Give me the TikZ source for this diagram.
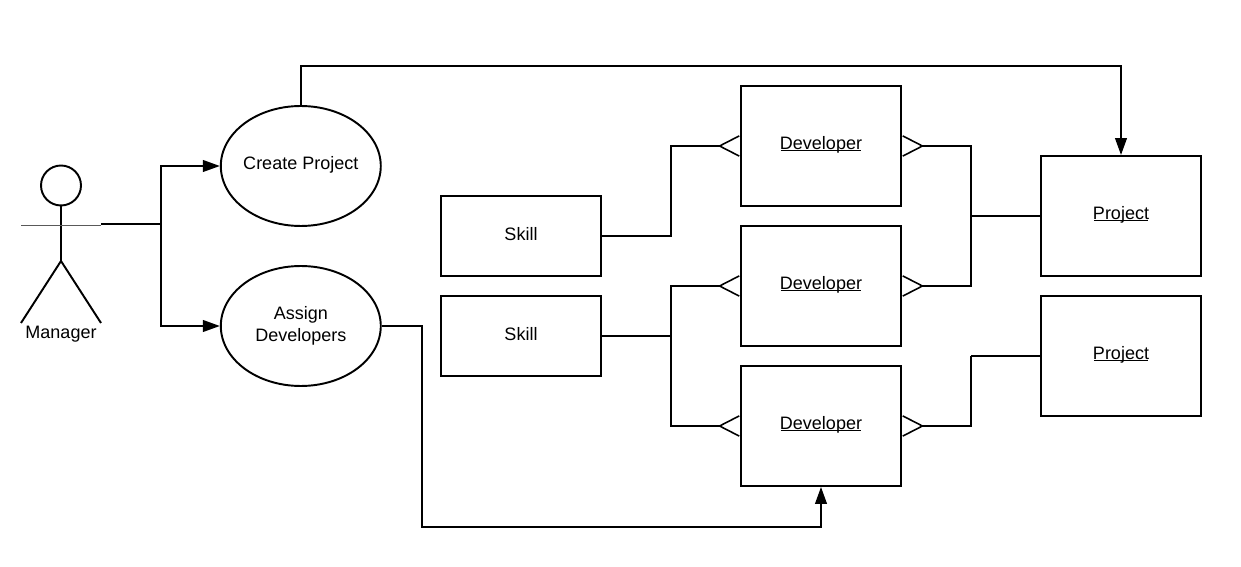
\documentclass[tikz,border=0pt]{standalone}
\usepackage{fontspec}
\setmainfont{Liberation Sans}
\usetikzlibrary{arrows.meta,shapes.geometric}

\newcommand{\souligne}[1]{\raisebox{-2.2pt}[0pt][0pt]{\vtop{\hbox{\kern-0.5pt#1\kern-0.5pt}\kern-2.1pt\hrule height 0.85pt\kern0pt}}}

\begin{document}
\begin{tikzpicture}[x=0.02cm,y=-0.02cm,font=\fontsize{10.25}{12.5}\selectfont]

\tikzset{
	ligne/.style={line width=1.1pt,black},
	fleche/.style={ligne,-{Triangle[length=9.6pt,width=6.6pt]}},
	pattes/.style={ligne,-{Straight Barb[reversed,length=11.2pt,width=11.5pt,line width=0.9pt]}},
	pattesdeb/.style={ligne,{Straight Barb[reversed,length=11.2pt,width=11.5pt,line width=0.9pt]}-},
	boite/.style={draw,ligne,rectangle,minimum width=3.2cm,inner sep=0pt},
	entite/.style={boite,minimum height=2.4cm},
	attribut/.style={boite,minimum height=1.6cm},
	cas/.style={draw,ligne,ellipse,minimum width=3.2cm,minimum height=2.4cm,inner sep=0pt}
}
\useasboundingbox (0,0) rectangle (1241,567);

%acteur
\node[draw,ligne,circle,minimum size=0.8cm,inner sep=0pt] (head) at (61,185.5) {};
\coordinate (hip) at (61,261);
\draw [ligne] (head.south) -- (hip);
\draw [ligne] (hip) -- (21,323);
\draw [ligne] (hip) -- (101,323);
\draw [line width=1pt,black!65] (21,225.5) -- (101,225.5);
\node (manager) at (61,334.5) {Manager};

%cas d'utilisation
\node[cas] (create) at (300.8,166) {\raisebox{3pt}{\makebox[0pt]{Create Project}}};
\node[cas] (assign) at (300.8,326) {\raisebox{2.4pt}{\makebox[0pt]{\begin{tabular}{@{}c@{}}Assign\\Developers\end{tabular}}}};

%attributs
\node[attribut] (skillA) at (521,236) {\raisebox{2.2pt}{Skill}};
\node[attribut] (skillB) at (521,336) {\raisebox{2.2pt}{Skill}};

%entites
\node[entite] (devA) at (821,146) {\souligne{Developer}};
\node[entite] (devB) at (821,286) {\souligne{Developer}};
\node[entite] (devC) at (821,426) {\souligne{Developer}};
\node[entite] (projectA) at (1121,216) {\souligne{Project}};
\node[entite] (projectB) at (1121,356) {\souligne{Project}};

%points de passage
\coordinate (hand) at (101,224);
\coordinate (trunk) at (161,224);
\coordinate (topright) at (1121,66);
\coordinate (turnA) at (422,326);
\coordinate (turnB) at (821,527);
\coordinate (busA) at (671,236);
\coordinate (busB) at (671,336);
\coordinate (joinA) at (971,216);
\coordinate (joinB) at (971,356);

%fleches
\draw [ligne] (hand) -- (trunk);
\draw [fleche] (trunk) |- (create.west);
\draw [fleche] (trunk) |- (assign.west);
\draw [fleche] (create.north) |- (topright) -- (projectA.north);
\draw [fleche] (assign.east) -- (turnA) |- (turnB) -- (devC.south);

%associations
\draw [pattes] (skillA.east) -- (busA) |- (devA.west);
\draw [pattes] (skillB.east) -- (busB) |- (devB.west);
\draw [pattes] (busB) |- (devC.west);
\draw [pattesdeb] (devA.east) -| (joinA);
\draw [pattesdeb] (devB.east) -| (joinA);
\draw [ligne] (joinA) -- (projectA.west);
\draw [pattesdeb] (devC.east) -| (joinB);
\draw [ligne] (joinB) -- (projectB.west);

\end{tikzpicture}
\end{document}
